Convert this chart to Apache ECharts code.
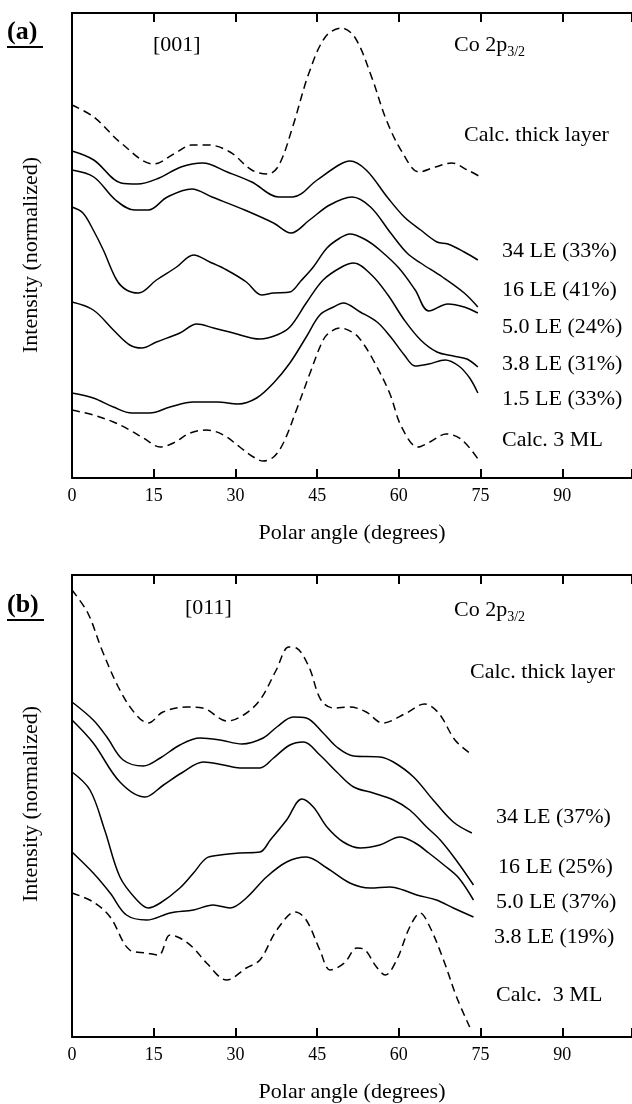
<!DOCTYPE html>
<html>
<head>
<meta charset="utf-8">
<title>Co 2p3/2 polar scans</title>
<script src="https://cdn.jsdelivr.net/npm/echarts@6/dist/echarts.min.js"></script>
<style>
  html, body { margin: 0; padding: 0; background: #fff; }
  #chart { width: 632px; height: 1104px; }
</style>
</head>
<body>
<div id="chart"></div>
<script>
// ===== panel (a) [001] : [polar angle, intensity] =====
const thickA = [[0,373],[4,361],[9,335],[15,314],[19,325],[22,333],[25,333],[29,326],[33,308],[36,304],[38,313],[40.5,351],[43.5,405],[46.5,441],[49.5,450],[52,440],[55,401],[57.7,358],[60.7,325],[63.7,306],[66.7,311],[69.7,315],[72.6,308],[75,301]];
const le34A = [[0,327],[4,318],[9,295],[12,294],[16,300],[20,311],[24,315],[28.5,306],[33,296],[38,281],[40.5,281],[45,298],[49,313],[51,317],[54,308],[58,280],[61,261],[64,248],[67,236],[69,234],[72,226],[74.5,218]];
const le16A = [[0,308],[4,301],[8,278],[11.5,268],[14,268],[17.5,281],[22,289],[25.7,281],[31.7,268],[37,255],[40.2,245],[43.6,258],[47.3,273],[51.4,281],[54.8,271],[58.5,245],[61.5,225],[64,215],[68,201],[72,185],[74.5,171]];
const le50A = [[0,271],[2,265],[3.9,248],[5.75,228],[8.2,198],[10,188],[12.2,185],[15.5,198],[19.2,211],[22.3,223],[25.3,216],[28.4,208],[32,196],[34.8,183],[37,185],[40,186],[42,197],[44.3,211],[46.8,230],[49.2,240],[51,244],[54,238],[56.5,228],[60,210],[63,188],[65.5,167],[69,174],[72,171],[74.5,165]];
const le38A = [[0,176],[3.9,168],[7.6,148],[10.6,133],[12.8,130],[15.5,136],[19.8,145],[22.9,154],[26,150],[29.6,145],[34.5,139],[37.6,143],[40,151],[43,175],[46.1,198],[49.5,211],[51.7,215],[55,203],[58,183],[61,158],[64,138],[67,126],[70,122],[72.5,119],[74.5,111]];
const le15A = [[0,85],[3.9,80],[7.6,71],[11,65],[14.3,65],[18,71],[22.3,76],[26.6,76],[30.5,74],[33.9,80],[37,95],[40,115],[43,141],[45.5,163],[48,171],[49.8,175],[52.9,166],[56,156],[58.5,141],[61,123],[63,112],[65.5,114],[68.5,118],[71,112],[73,100],[74.5,85]];
const ml3A = [[0,68],[3.9,63],[7.6,56],[10.6,48],[13.1,40],[16.2,31],[18.6,35],[21.7,45],[24.7,48],[27.8,43],[30.8,31],[33.3,21],[35.1,17],[37,21],[38.8,35],[41.2,68],[43.7,105],[46.1,138],[47.4,146],[49.2,150],[51.7,145],[53,138],[55.3,118],[58.3,85],[60.5,51],[63.5,31],[65.7,36],[68.7,44],[71.6,38],[74.9,16]];

// ===== panel (b) [011] =====
const thickB = [[0,447],[2.9,424],[5.5,387],[8.5,350],[11.5,324],[14,314],[16.7,325],[21,330],[24,329],[28.5,316],[31.5,322],[34.5,337],[37.5,367],[39.8,390],[41.2,389],[43.5,370],[45.7,337],[48,329],[51,330],[54,325],[57,314],[61.4,324],[64.7,333],[67.3,324],[70.3,297],[73,284]];
const le34B = [[0,335],[3.9,317],[6.4,300],[9.4,277],[13.1,271],[16.2,279],[19.8,292],[23.5,299],[27.2,297],[31.2,293],[35.1,299],[37.6,310],[40.6,320],[43,319],[46.1,304],[48.6,290],[51.7,281],[56.5,280],[59,275],[62.7,260],[66.3,237],[70,215],[73.4,204]];
const le16B = [[0,317],[3.9,294],[8.8,255],[13.4,240],[16.8,252],[20.4,265],[24.1,275],[27.8,272],[30.8,269],[34.5,269],[37,279],[40,292],[42.5,295],[45.5,282],[48.6,265],[51.7,250],[55.3,244],[59,237],[62,227],[65.1,210],[67.6,197],[70.5,177],[73.7,152]];
const le50B = [[0,265],[3.3,247],[6,207],[8.8,160],[11.9,137],[14,129],[16.2,134],[19.8,149],[22.3,164],[24.7,179],[27.2,182],[30.8,184],[34.5,185],[36.4,197],[39.4,217],[42.2,238],[44.3,230],[46.8,210],[49.8,195],[52.9,189],[56.5,192],[60.2,200],[63,194],[65.5,184],[68.5,171],[71,159],[73.7,137]];
const le38B = [[0,185],[3.9,164],[7,144],[10,122],[13.7,117],[18,124],[22.3,127],[25.9,132],[29,129],[32,139],[35.7,160],[39.4,175],[43,180],[46.8,169],[51,154],[54.7,149],[58.4,150],[60.8,147],[63.3,142],[66.9,137],[70,129],[73.7,120]];
const ml3B = [[0,144],[3.9,135],[7,120],[10.6,87],[13.7,84],[15.9,82],[18,102],[19.8,99],[22.3,89],[24.7,74],[28.4,57],[32,69],[34.5,77],[37.6,107],[41,125],[43,117],[45.5,87],[47.4,67],[50,74],[52.3,89],[53.8,87],[55.9,70],[57.5,62],[59.6,77],[62,110],[63.9,124],[65.7,110],[68.2,77],[70.6,40],[73,10]];

const xTickStep = 15;
const xMax = 102.8;

const FONT = '"Liberation Serif", "Times New Roman", "DejaVu Serif", serif';
const chart = echarts.init(document.getElementById('chart'));

// 一条曲线
function curve(data, idx, dashed) {
  return {
    type: 'line',
    xAxisIndex: idx * 2,
    yAxisIndex: idx,
    data: data,
    smooth: 0.35,
    showSymbol: false,
    animation: false,
    lineStyle: {
      color: '#000',
      width: 1.5,
      type: dashed ? [8, 5] : 'solid'
    }
  };
}

function bottomAxis(grid) {
  return {
    type: 'value', gridIndex: grid, position: 'bottom',
    min: 0, max: xMax, interval: xTickStep,
    name: 'Polar angle (degrees)', nameLocation: 'middle', nameGap: 44,
    nameTextStyle: { fontFamily: FONT, fontSize: 22, color: '#000' },
    axisLine: { lineStyle: { color: '#000', width: 2 } },
    axisTick: { inside: true, length: 9, lineStyle: { color: '#000', width: 2 } },
    axisLabel: {
      fontFamily: FONT, fontSize: 18, color: '#000', margin: 9,
      formatter: v => (v % xTickStep === 0 ? String(v) : '')
    },
    splitLine: { show: false }
  };
}

function topAxis(grid) {
  return {
    type: 'value', gridIndex: grid, position: 'top',
    min: 0, max: xMax, interval: xTickStep,
    axisLine: { lineStyle: { color: '#000', width: 2 } },
    axisTick: { inside: true, length: 9, lineStyle: { color: '#000', width: 2 } },
    axisLabel: { show: false },
    splitLine: { show: false }
  };
}

function leftAxis(grid, max) {
  return {
    type: 'value', gridIndex: grid, min: 0, max: max,
    axisLine: { show: true, lineStyle: { color: '#000', width: 2 } },
    axisTick: { show: false },
    axisLabel: { show: false },
    splitLine: { show: false }
  };
}

function txt(text, x, y, size, bold) {
  return {
    type: 'text', silent: true,
    style: {
      text: text, x: x, y: y, fill: '#000',
      font: (bold ? 'bold ' : '') + size + 'px ' + FONT,
      verticalAlign: 'middle', align: 'left'
    }
  };
}

// 纵轴标题 (旋转)
function yTitle(cx, cy) {
  return {
    type: 'text', silent: true,
    x: cx, y: cy, rotation: Math.PI / 2,
    style: {
      text: 'Intensity (normalized)', x: 0, y: 0, fill: '#000',
      font: '22px ' + FONT, align: 'center', verticalAlign: 'middle'
    }
  };
}

function coLabel(x, y) {
  return {
    type: 'text', silent: true,
    style: {
      text: '{m|Co 2p}{s|3/2}', x: x, y: y, verticalAlign: 'middle',
      rich: {
        m: { fontFamily: FONT, fontSize: 22, color: '#000' },
        s: { fontFamily: FONT, fontSize: 14, color: '#000', padding: [14, 0, 0, 0] }
      }
    }
  };
}

function underline(x1, x2, y) {
  return {
    type: 'line', silent: true,
    shape: { x1: x1, y1: y, x2: x2, y2: y },
    style: { stroke: '#000', lineWidth: 2 }
  };
}

const option = {
  backgroundColor: '#fff',
  animation: false,
  grid: [
    { left: 72, right: 0, top: 13, height: 465, containLabel: false, outerBoundsMode: 'none' },
    { left: 72, right: 0, top: 575, height: 462, containLabel: false, outerBoundsMode: 'none' }
  ],
  xAxis: [bottomAxis(0), topAxis(0), bottomAxis(1), topAxis(1)],
  yAxis: [leftAxis(0, 465), leftAxis(1, 462)],
  series: [
    curve(thickA, 0, true), curve(le34A, 0), curve(le16A, 0), curve(le50A, 0),
    curve(le38A, 0), curve(le15A, 0), curve(ml3A, 0, true),
    curve(thickB, 1, true), curve(le34B, 1), curve(le16B, 1), curve(le50B, 1),
    curve(le38B, 1), curve(ml3B, 1, true)
  ],
  graphic: [
    // (a)
    txt('(a)', 7, 32, 26, true), underline(7, 43, 47),
    yTitle(31, 255),
    txt('[001]', 153, 45, 22),
    coLabel(454, 45),
    txt('Calc. thick layer', 464, 135, 22),
    txt('34 LE (33%)', 502, 251, 22),
    txt('16 LE (41%)', 502, 290, 22),
    txt('5.0 LE (24%)', 502, 327, 22),
    txt('3.8 LE (31%)', 502, 364, 22),
    txt('1.5 LE (33%)', 502, 399, 22),
    txt('Calc. 3 ML', 502, 440, 22),
    // (b)
    txt('(b)', 7, 605, 26, true), underline(7, 44, 620),
    yTitle(31, 804),
    txt('[011]', 185, 608, 22),
    coLabel(454, 610),
    txt('Calc. thick layer', 470, 672, 22),
    txt('34 LE (37%)', 496, 817, 22),
    txt('16 LE (25%)', 498, 867, 22),
    txt('5.0 LE (37%)', 496, 902, 22),
    txt('3.8 LE (19%)', 494, 937, 22),
    txt('Calc.  3 ML', 496, 995, 22)
  ]
};

chart.setOption(option);
</script>
</body>
</html>
